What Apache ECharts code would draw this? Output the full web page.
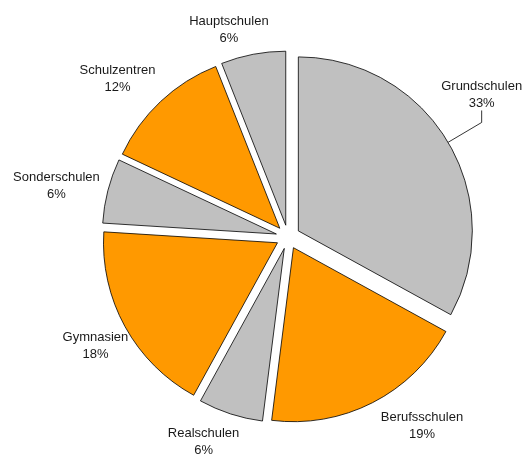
<!DOCTYPE html>
<html>
<head>
<meta charset="utf-8">
<script src="https://cdn.jsdelivr.net/npm/echarts@6/dist/echarts.min.js"></script>
<style>
  html, body { margin: 0; padding: 0; background: #fff; }
  #chart { width: 524px; height: 455px; }
</style>
</head>
<body>
<div id="chart"></div>
<script>
// Schularten, Anteil in Prozent (im Uhrzeigersinn ab 12 Uhr)
var schularten = ['Grundschulen', 'Berufsschulen', 'Realschulen', 'Gymnasien', 'Sonderschulen', 'Schulzentren', 'Hauptschulen']
var anteile = [33, 19, 6, 18, 6, 12, 6]
var farben = ['#C0C0C0', '#FF9900', '#C0C0C0', '#FF9900', '#C0C0C0', '#FF9900', '#C0C0C0']
// nur Grundschulen hat eine Führungslinie
var mitLinie = [true, false, false, false, false, false, false]
var linienLaenge = [39, 43, 29, 36, 51, 47, 44]
// Feinverschiebung der Beschriftungen (px)
var versatzX = [0, 30, -18, 2, -2, -11, -16]
var versatzY = [0, -15, 0, 2, 8, 12, 19]
var senkrecht = 12 // senkrechtes Stück der Führungslinie

var chart = echarts.init(document.getElementById('chart'), null, { renderer: 'canvas' })

var daten = schularten.map(function (name, i) {
  return {
    name: name,
    value: anteile[i],
    selected: true,
    itemStyle: { color: farben[i] },
    labelLine: { show: mitLinie[i], length: linienLaenge[i], length2: 0 }
  }
})

var option = {
  animation: false,
  series: [{
    type: 'pie',
    center: [288, 237],
    radius: 174,
    startAngle: 90,
    clockwise: true,
    selectedMode: 'multiple',
    selectedOffset: 12,
    avoidLabelOverlap: false,
    itemStyle: { borderColor: '#000', borderWidth: 0.8 },
    emphasis: { disabled: true },
    label: {
      position: 'outside',
      formatter: '{b}\n{d}%',
      color: '#1a1a1a',
      fontFamily: 'Liberation Sans',
      fontSize: 13,
      lineHeight: 17,
      distanceToLabelLine: 0
    },
    labelLine: { lineStyle: { color: '#000', width: 0.8 } },
    labelLayout: function (p) {
      var i = p.dataIndex
      if (mitLinie[i] && p.labelLinePoints) {
        var pts = p.labelLinePoints
        var knick = pts[1]
        return {
          align: 'center',
          verticalAlign: 'bottom',
          dy: -senkrecht + 1,
          labelLinePoints: [pts[0], knick, [knick[0], knick[1] - senkrecht]]
        }
      }
      return { align: 'center', verticalAlign: 'middle', dx: versatzX[i], dy: versatzY[i] }
    },
    data: daten
  }]
}

chart.setOption(option)
</script>
</body>
</html>
